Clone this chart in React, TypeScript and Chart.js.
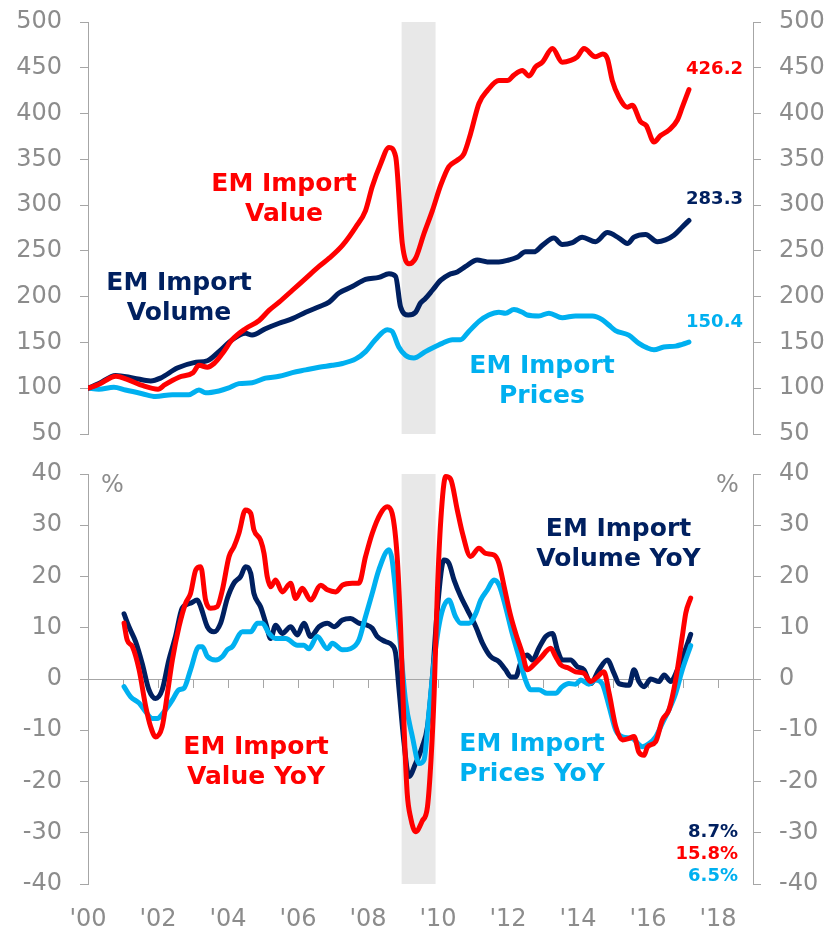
import React, { useEffect, useRef } from "react";
import { Chart, registerables } from "chart.js";

Chart.register(...registerables);

type P = [number, number];

// ---------- axis ranges / ticks ----------
const xRange = [2000, 2019];
const yearLabelStep = 2;
const levelRange = [50, 500];
const levelStep = 50;
const yoyRange = [-40, 40];
const yoyStep = 10;
const recessionStart = [2008.96];
const recessionEnd = [2009.93];

// ---------- levels (index, 2000 = 100) ----------
const importValue: P[] = [
  [2000.0, 100], [2000.3, 104], [2000.8, 113], [2001.1, 110], [2001.55, 103], [2002.0, 99],
  [2002.2, 104], [2002.6, 112], [2003.0, 117], [2003.17, 125], [2003.41, 123], [2003.6, 127],
  [2003.84, 138], [2004.12, 153], [2004.5, 165], [2004.89, 174], [2005.17, 185], [2005.46, 194],
  [2005.84, 207], [2006.22, 220], [2006.6, 233], [2006.89, 242], [2007.27, 256], [2007.65, 276],
  [2007.93, 294], [2008.12, 320], [2008.36, 345], [2008.6, 363], [2008.79, 353], [2008.98, 258],
  [2009.17, 236], [2009.36, 242], [2009.6, 269], [2009.84, 294], [2010.08, 322], [2010.31, 342],
  [2010.55, 349], [2010.74, 356], [2010.93, 378], [2011.17, 411], [2011.41, 425], [2011.74, 436],
  [2011.98, 436], [2012.17, 442], [2012.41, 447], [2012.6, 441], [2012.79, 451], [2012.98, 456],
  [2013.27, 471], [2013.55, 456], [2013.79, 458], [2013.98, 462], [2014.17, 471], [2014.5, 462],
  [2014.71, 465], [2014.84, 460], [2014.98, 436], [2015.17, 418], [2015.41, 407], [2015.55, 409],
  [2015.79, 391], [2015.95, 387], [2016.17, 369], [2016.36, 376], [2016.6, 382], [2016.84, 393],
  [2016.98, 407], [2017.17, 426.2],
];

const importVolume: P[] = [
  [2000.0, 100], [2000.31, 105], [2000.79, 114], [2001.31, 111], [2001.79, 108], [2002.07, 111],
  [2002.55, 122], [2003.03, 128], [2003.41, 130], [2003.74, 140], [2004.12, 153], [2004.5, 160],
  [2004.69, 158], [2005.07, 165], [2005.46, 171], [2005.84, 176], [2006.22, 183], [2006.6, 189],
  [2006.89, 194], [2007.17, 204], [2007.55, 211], [2007.93, 219], [2008.31, 221], [2008.6, 225],
  [2008.79, 222], [2008.93, 189], [2009.15, 180], [2009.36, 183], [2009.5, 193], [2009.64, 198],
  [2009.84, 207], [2010.08, 218], [2010.31, 224], [2010.55, 227], [2010.79, 233], [2011.12, 240],
  [2011.41, 238], [2011.74, 238], [2012.02, 240], [2012.26, 243], [2012.5, 249], [2012.74, 249],
  [2012.98, 256], [2013.31, 264], [2013.55, 257], [2013.84, 259], [2014.12, 265], [2014.5, 260],
  [2014.84, 270], [2015.17, 264], [2015.41, 258], [2015.6, 265], [2015.93, 268], [2016.27, 260],
  [2016.5, 262], [2016.74, 267], [2016.98, 276], [2017.17, 283.3],
];

const importPrices: P[] = [
  [2000.0, 100], [2000.31, 99], [2000.74, 101], [2001.07, 98], [2001.55, 94], [2001.93, 91],
  [2002.41, 93], [2002.88, 93], [2003.17, 98], [2003.36, 95], [2003.74, 97], [2004.0, 100],
  [2004.31, 105], [2004.69, 106], [2005.07, 111], [2005.46, 113], [2005.84, 117], [2006.22, 120],
  [2006.6, 123], [2006.98, 125], [2007.27, 127], [2007.65, 132], [2007.93, 140], [2008.21, 153],
  [2008.55, 164], [2008.69, 162], [2008.88, 145], [2009.07, 136], [2009.31, 133], [2009.64, 140],
  [2009.84, 144], [2010.12, 149], [2010.41, 153], [2010.64, 153], [2010.88, 162], [2011.17, 173],
  [2011.45, 180], [2011.74, 183], [2011.93, 182], [2012.17, 186], [2012.41, 183], [2012.55, 180],
  [2012.88, 179], [2013.17, 182], [2013.55, 177], [2013.93, 179], [2014.41, 179], [2014.69, 175],
  [2014.88, 169], [2015.07, 163], [2015.45, 158], [2015.74, 149], [2015.98, 144], [2016.17, 142],
  [2016.45, 145], [2016.79, 146], [2016.98, 148], [2017.17, 150.4],
];

// ---------- year-over-year (%) ----------
const volumeYoY: P[] = [
  [2001.03, 12.7], [2001.17, 10.2], [2001.36, 7.3], [2001.55, 3], [2001.74, -2.1], [2001.93, -3.8],
  [2002.12, -2.1], [2002.31, 3.7], [2002.5, 8.3], [2002.69, 13.8], [2002.93, 14.8], [2003.12, 15.4],
  [2003.22, 14.1], [2003.41, 10.2], [2003.6, 9.2], [2003.79, 10.9], [2003.98, 15.7], [2004.17, 18.7],
  [2004.36, 20], [2004.5, 21.9], [2004.65, 20.6], [2004.74, 16.7], [2004.93, 14.1], [2005.08, 10.9],
  [2005.22, 7.9], [2005.36, 10.5], [2005.55, 8.9], [2005.79, 10.2], [2005.98, 8.6], [2006.17, 10.9],
  [2006.36, 8.3], [2006.6, 10.2], [2006.84, 10.9], [2007.03, 10.2], [2007.27, 11.5], [2007.5, 11.8],
  [2007.74, 10.9], [2007.93, 10.6], [2008.12, 9.9], [2008.26, 8.3], [2008.5, 7.3], [2008.69, 6.6],
  [2008.79, 5.0], [2008.88, -1.5], [2009.03, -12.5], [2009.17, -19], [2009.36, -16.5], [2009.55, -13.2],
  [2009.7, -9.3], [2009.84, 0.4], [2009.98, 13.5], [2010.17, 23.2], [2010.31, 22.6], [2010.46, 19.3],
  [2010.65, 16.1], [2010.84, 13.5], [2011.08, 10.2], [2011.27, 7.0], [2011.5, 4.4], [2011.74, 3.4],
  [2011.93, 1.8], [2012.08, 0.4], [2012.22, 0.4], [2012.36, 3.1], [2012.55, 4.7], [2012.7, 3.7],
  [2012.88, 6.0], [2013.08, 8.3], [2013.27, 8.9], [2013.41, 5.7], [2013.55, 3.7], [2013.79, 3.7],
  [2013.98, 2.4], [2014.17, 1.8], [2014.36, -0.9], [2014.6, 1.8], [2014.84, 3.7], [2015.03, 1.1],
  [2015.17, -0.9], [2015.46, -1.2], [2015.6, 1.8], [2015.74, -0.5], [2015.89, -1.5], [2016.08, 0],
  [2016.31, -0.5], [2016.46, 0.8], [2016.65, -0.5], [2016.84, 1.8], [2017.03, 5.0], [2017.22, 8.7],
];

const valueYoY: P[] = [
  [2001.03, 10.9], [2001.12, 7.6], [2001.27, 6.3], [2001.46, 1.8], [2001.65, -5.4], [2001.79, -9.3],
  [2001.93, -11.3], [2002.12, -9.3], [2002.27, -2.8], [2002.41, 3.7], [2002.6, 10.2], [2002.79, 14.8],
  [2002.93, 16.7], [2003.08, 21.3], [2003.22, 21.9], [2003.36, 15.4], [2003.5, 13.8], [2003.69, 14.1],
  [2003.84, 17.4], [2004.03, 23.9], [2004.17, 25.8], [2004.31, 28.4], [2004.5, 33], [2004.65, 32.3],
  [2004.74, 29.1], [2004.93, 27.1], [2005.03, 24.5], [2005.12, 20], [2005.22, 18], [2005.36, 19.3],
  [2005.55, 17], [2005.79, 18.7], [2005.93, 15.7], [2006.12, 17.7], [2006.36, 15.4], [2006.65, 18.3],
  [2006.84, 17.4], [2007.08, 17], [2007.27, 18.3], [2007.55, 18.7], [2007.74, 18.7], [2007.93, 23.9],
  [2008.12, 28.4], [2008.36, 32.3], [2008.55, 33.6], [2008.69, 32.3], [2008.84, 23.2], [2008.93, 10.2],
  [2009.03, -9.3], [2009.12, -22.3], [2009.22, -27.1], [2009.36, -29.8], [2009.55, -27.7], [2009.7, -24.9],
  [2009.8, -15.8], [2009.89, -2.8], [2009.98, 16.7], [2010.08, 31], [2010.22, 39.5], [2010.36, 39],
  [2010.55, 33], [2010.7, 28.4], [2010.93, 23.9], [2011.17, 25.5], [2011.36, 24.5], [2011.6, 24.2],
  [2011.74, 22.6], [2011.89, 18], [2012.08, 12.2], [2012.22, 8.9], [2012.41, 5], [2012.55, 1.8],
  [2012.74, 2.8], [2012.93, 4.1], [2013.22, 6.0], [2013.36, 4.4], [2013.5, 2.8], [2013.74, 2.1],
  [2013.93, 1.4], [2014.17, 1.1], [2014.36, -0.5], [2014.55, 0.4], [2014.74, 1.4], [2014.89, -2.8],
  [2015.08, -9.3], [2015.27, -11.9], [2015.46, -11.6], [2015.6, -11.2], [2015.74, -14.3], [2015.89, -14.9],
  [2015.98, -13.3], [2016.22, -12.2], [2016.41, -8.0], [2016.6, -6.0], [2016.79, -0.2], [2016.98, 8.3],
  [2017.08, 12.9], [2017.22, 15.8],
];

const pricesYoY: P[] = [
  [2001.03, -1.5], [2001.22, -3.5], [2001.46, -4.7], [2001.65, -6.4], [2001.84, -7.7], [2001.98, -7.7],
  [2002.17, -6.4], [2002.41, -4.1], [2002.6, -2.1], [2002.74, -1.8], [2002.93, 1.8], [2003.17, 6.3],
  [2003.27, 6.3], [2003.41, 4.4], [2003.65, 3.7], [2003.84, 4.4], [2003.98, 5.7], [2004.12, 6.3],
  [2004.41, 9.2], [2004.65, 9.2], [2004.84, 10.9], [2004.98, 10.9], [2005.17, 8.9], [2005.36, 7.9],
  [2005.65, 7.9], [2005.98, 6.6], [2006.17, 6.6], [2006.31, 5.9], [2006.55, 8.3], [2006.84, 5.9],
  [2006.98, 7.0], [2007.27, 5.7], [2007.5, 5.9], [2007.74, 7.6], [2007.93, 12.2], [2008.12, 16.7],
  [2008.31, 21.3], [2008.6, 25.2], [2008.69, 23.2], [2008.88, 10.2], [2009.07, -4.1], [2009.27, -11.3],
  [2009.46, -16.5], [2009.6, -15.8], [2009.74, -6.6], [2009.89, 3.7], [2010.08, 12.2], [2010.31, 15.4],
  [2010.5, 12.2], [2010.65, 10.9], [2010.89, 10.9], [2011.08, 12.8], [2011.22, 15.4], [2011.41, 17.4],
  [2011.6, 19.3], [2011.74, 18.4], [2011.93, 14.1], [2012.12, 8.9], [2012.31, 4.4], [2012.5, -0.2],
  [2012.65, -2.1], [2012.88, -2.1], [2013.12, -2.8], [2013.36, -2.8], [2013.55, -1.5], [2013.74, -0.9],
  [2013.93, -1], [2014.08, -0.2], [2014.31, -1], [2014.5, -0.2], [2014.69, -0.9], [2014.89, -5.4],
  [2015.08, -10], [2015.27, -11.3], [2015.55, -11.6], [2015.84, -13.2], [2016.03, -12.6], [2016.22, -11.3],
  [2016.41, -8.6], [2016.6, -6], [2016.79, -2.8], [2016.98, 1.8], [2017.22, 6.5],
];

// ---------- styles ----------
const RED = "#FF0000";
const NAVY = "#002060";
const LBLUE = "#00B0F0";
const GRAY = "#8c8c8c";
const AXIS = "#a6a6a6";
const SHADE = "#e8e8e8";
const FONT = "'DejaVu Sans', Verdana, sans-serif";

const toXY = (arr: P[]) => arr.map(([x, y]) => ({ x, y }));

const shadePlugin = {
  id: "shade",
  beforeDraw(chart: any) {
    const { ctx, chartArea, scales } = chart;
    const xs = scales.x;
    ctx.save();
    ctx.fillStyle = SHADE;
    recessionStart.forEach((s, i) => {
      const x0 = xs.getPixelForValue(s);
      const x1 = xs.getPixelForValue(recessionEnd[i]);
      ctx.fillRect(x0, chartArea.top, x1 - x0, chartArea.bottom - chartArea.top);
    });
    ctx.restore();
  },
};

const yAxis = (position: string, min: number, max: number, step: number, width: number) => ({
  type: "linear",
  position,
  min,
  max,
  ticks: { stepSize: step, color: GRAY, font: { family: FONT, size: 24 }, padding: 18 },
  grid: { drawOnChartArea: false, drawTicks: true, tickLength: 8, color: AXIS, lineWidth: 1 },
  border: { display: true, color: AXIS, width: 1 },
  afterFit: (s: any) => {
    s.width = width;
    s.paddingTop = 0;
    s.paddingBottom = 0;
    s.paddingLeft = 0;
    s.paddingRight = 0;
  },
});

const line = (data: P[], color: string) => ({
  data: toXY(data),
  borderColor: color,
  backgroundColor: color,
  borderWidth: 5,
  pointRadius: 0,
  cubicInterpolationMode: "monotone",
  borderCapStyle: "round",
  borderJoinStyle: "round",
  fill: false,
});

function TopChart() {
  const ref = useRef<HTMLCanvasElement>(null);
  useEffect(() => {
    const chart = new Chart(ref.current!, {
      type: "line",
      data: {
        datasets: [line(importValue, RED), line(importVolume, NAVY), line(importPrices, LBLUE)] as any,
      },
      options: {
        animation: false,
        responsive: false,
        events: [],
        layout: { padding: { top: 22, bottom: 16, left: 0, right: 0 } },
        plugins: { legend: { display: false }, tooltip: { enabled: false } },
        scales: {
          x: { type: "linear", min: xRange[0], max: xRange[1], display: false },
          y: yAxis("left", levelRange[0], levelRange[1], levelStep, 88),
          y2: yAxis("right", levelRange[0], levelRange[1], levelStep, 74),
        } as any,
      },
      plugins: [shadePlugin],
    });
    return () => chart.destroy();
  }, []);
  return <canvas ref={ref} width={827} height={450} style={{ position: "absolute", left: 0, top: 0 }} />;
}

function BottomChart() {
  const ref = useRef<HTMLCanvasElement>(null);
  useEffect(() => {
    const chart = new Chart(ref.current!, {
      type: "line",
      data: {
        datasets: [line(valueYoY, RED), line(pricesYoY, LBLUE), line(volumeYoY, NAVY)] as any,
      },
      options: {
        animation: false,
        responsive: false,
        events: [],
        layout: { padding: { top: 19, bottom: 0, left: 0, right: 0 } },
        plugins: { legend: { display: false }, tooltip: { enabled: false } },
        scales: {
          x: {
            type: "linear",
            position: "bottom",
            min: xRange[0],
            max: xRange[1],
            grid: { display: false, drawTicks: false },
            border: { display: false },
            ticks: {
              stepSize: yearLabelStep,
              includeBounds: false,
              autoSkip: false,
              maxRotation: 0,
              color: GRAY,
              font: { family: FONT, size: 24 },
              padding: 21,
              callback: (v: any) => "'" + String(Math.round(v) % 100).padStart(2, "0"),
            },
            afterFit: (s: any) => {
              s.height = 46;
              s.paddingLeft = 0;
              s.paddingRight = 0;
            },
          },
          xz: {
            type: "linear",
            position: { y: 0 },
            min: xRange[0],
            max: xRange[1],
            ticks: { display: false, stepSize: 1 },
            grid: { drawOnChartArea: false, drawTicks: true, tickLength: 8, color: AXIS },
            border: { display: true, color: AXIS, width: 1 },
          },
          y: yAxis("left", yoyRange[0], yoyRange[1], yoyStep, 88),
          y2: yAxis("right", yoyRange[0], yoyRange[1], yoyStep, 74),
        } as any,
      },
      plugins: [shadePlugin],
    });
    return () => chart.destroy();
  }, []);
  return <canvas ref={ref} width={827} height={475} style={{ position: "absolute", left: 0, top: 455 }} />;
}

type Note = { text: string; color: string; x: number; y: number; size: number; bold: boolean; align: "center" | "right" };

const notes: Note[] = [
  { text: "EM Import\nValue", color: RED, x: 284, y: 198, size: 25, bold: true, align: "center" },
  { text: "EM Import\nVolume", color: NAVY, x: 179, y: 296.7, size: 25, bold: true, align: "center" },
  { text: "EM Import\nPrices", color: LBLUE, x: 542, y: 379.7, size: 25, bold: true, align: "center" },
  { text: "426.2", color: RED, x: 743, y: 67.7, size: 18, bold: true, align: "right" },
  { text: "283.3", color: NAVY, x: 743, y: 198.3, size: 18, bold: true, align: "right" },
  { text: "150.4", color: LBLUE, x: 743, y: 321, size: 18, bold: true, align: "right" },
  { text: "%", color: GRAY, x: 112.5, y: 484, size: 24, bold: false, align: "center" },
  { text: "%", color: GRAY, x: 727.5, y: 484, size: 24, bold: false, align: "center" },
  { text: "EM Import\nValue YoY", color: RED, x: 256, y: 761, size: 25, bold: true, align: "center" },
  { text: "EM Import\nVolume YoY", color: NAVY, x: 618.5, y: 543.3, size: 25, bold: true, align: "center" },
  { text: "EM Import\nPrices YoY", color: LBLUE, x: 532, y: 758.3, size: 25, bold: true, align: "center" },
  { text: "8.7%", color: NAVY, x: 738, y: 830.7, size: 18, bold: true, align: "right" },
  { text: "15.8%", color: RED, x: 738, y: 853.3, size: 18, bold: true, align: "right" },
  { text: "6.5%", color: LBLUE, x: 738, y: 875, size: 18, bold: true, align: "right" },
];

export default function App() {
  return (
    <div
      style={{
        position: "fixed",
        left: 0,
        top: 0,
        width: 827,
        height: 930,
        background: "#fff",
        overflow: "hidden",
      }}
    >
      <TopChart />
      <BottomChart />
      {notes.map((n, i) => (
        <div
          key={i}
          style={{
            position: "absolute",
            left: n.align === "center" ? n.x : undefined,
            right: n.align === "right" ? 827 - n.x : undefined,
            top: n.y,
            transform: n.align === "center" ? "translate(-50%, -50%)" : "translateY(-50%)",
            color: n.color,
            fontFamily: FONT,
            fontSize: n.size,
            fontWeight: n.bold ? "bold" : "normal",
            lineHeight: n.size >= 25 ? "30px" : `${n.size + 4}px`,
            whiteSpace: "pre",
            textAlign: n.align,
          }}
        >
          {n.text}
        </div>
      ))}
    </div>
  );
}
